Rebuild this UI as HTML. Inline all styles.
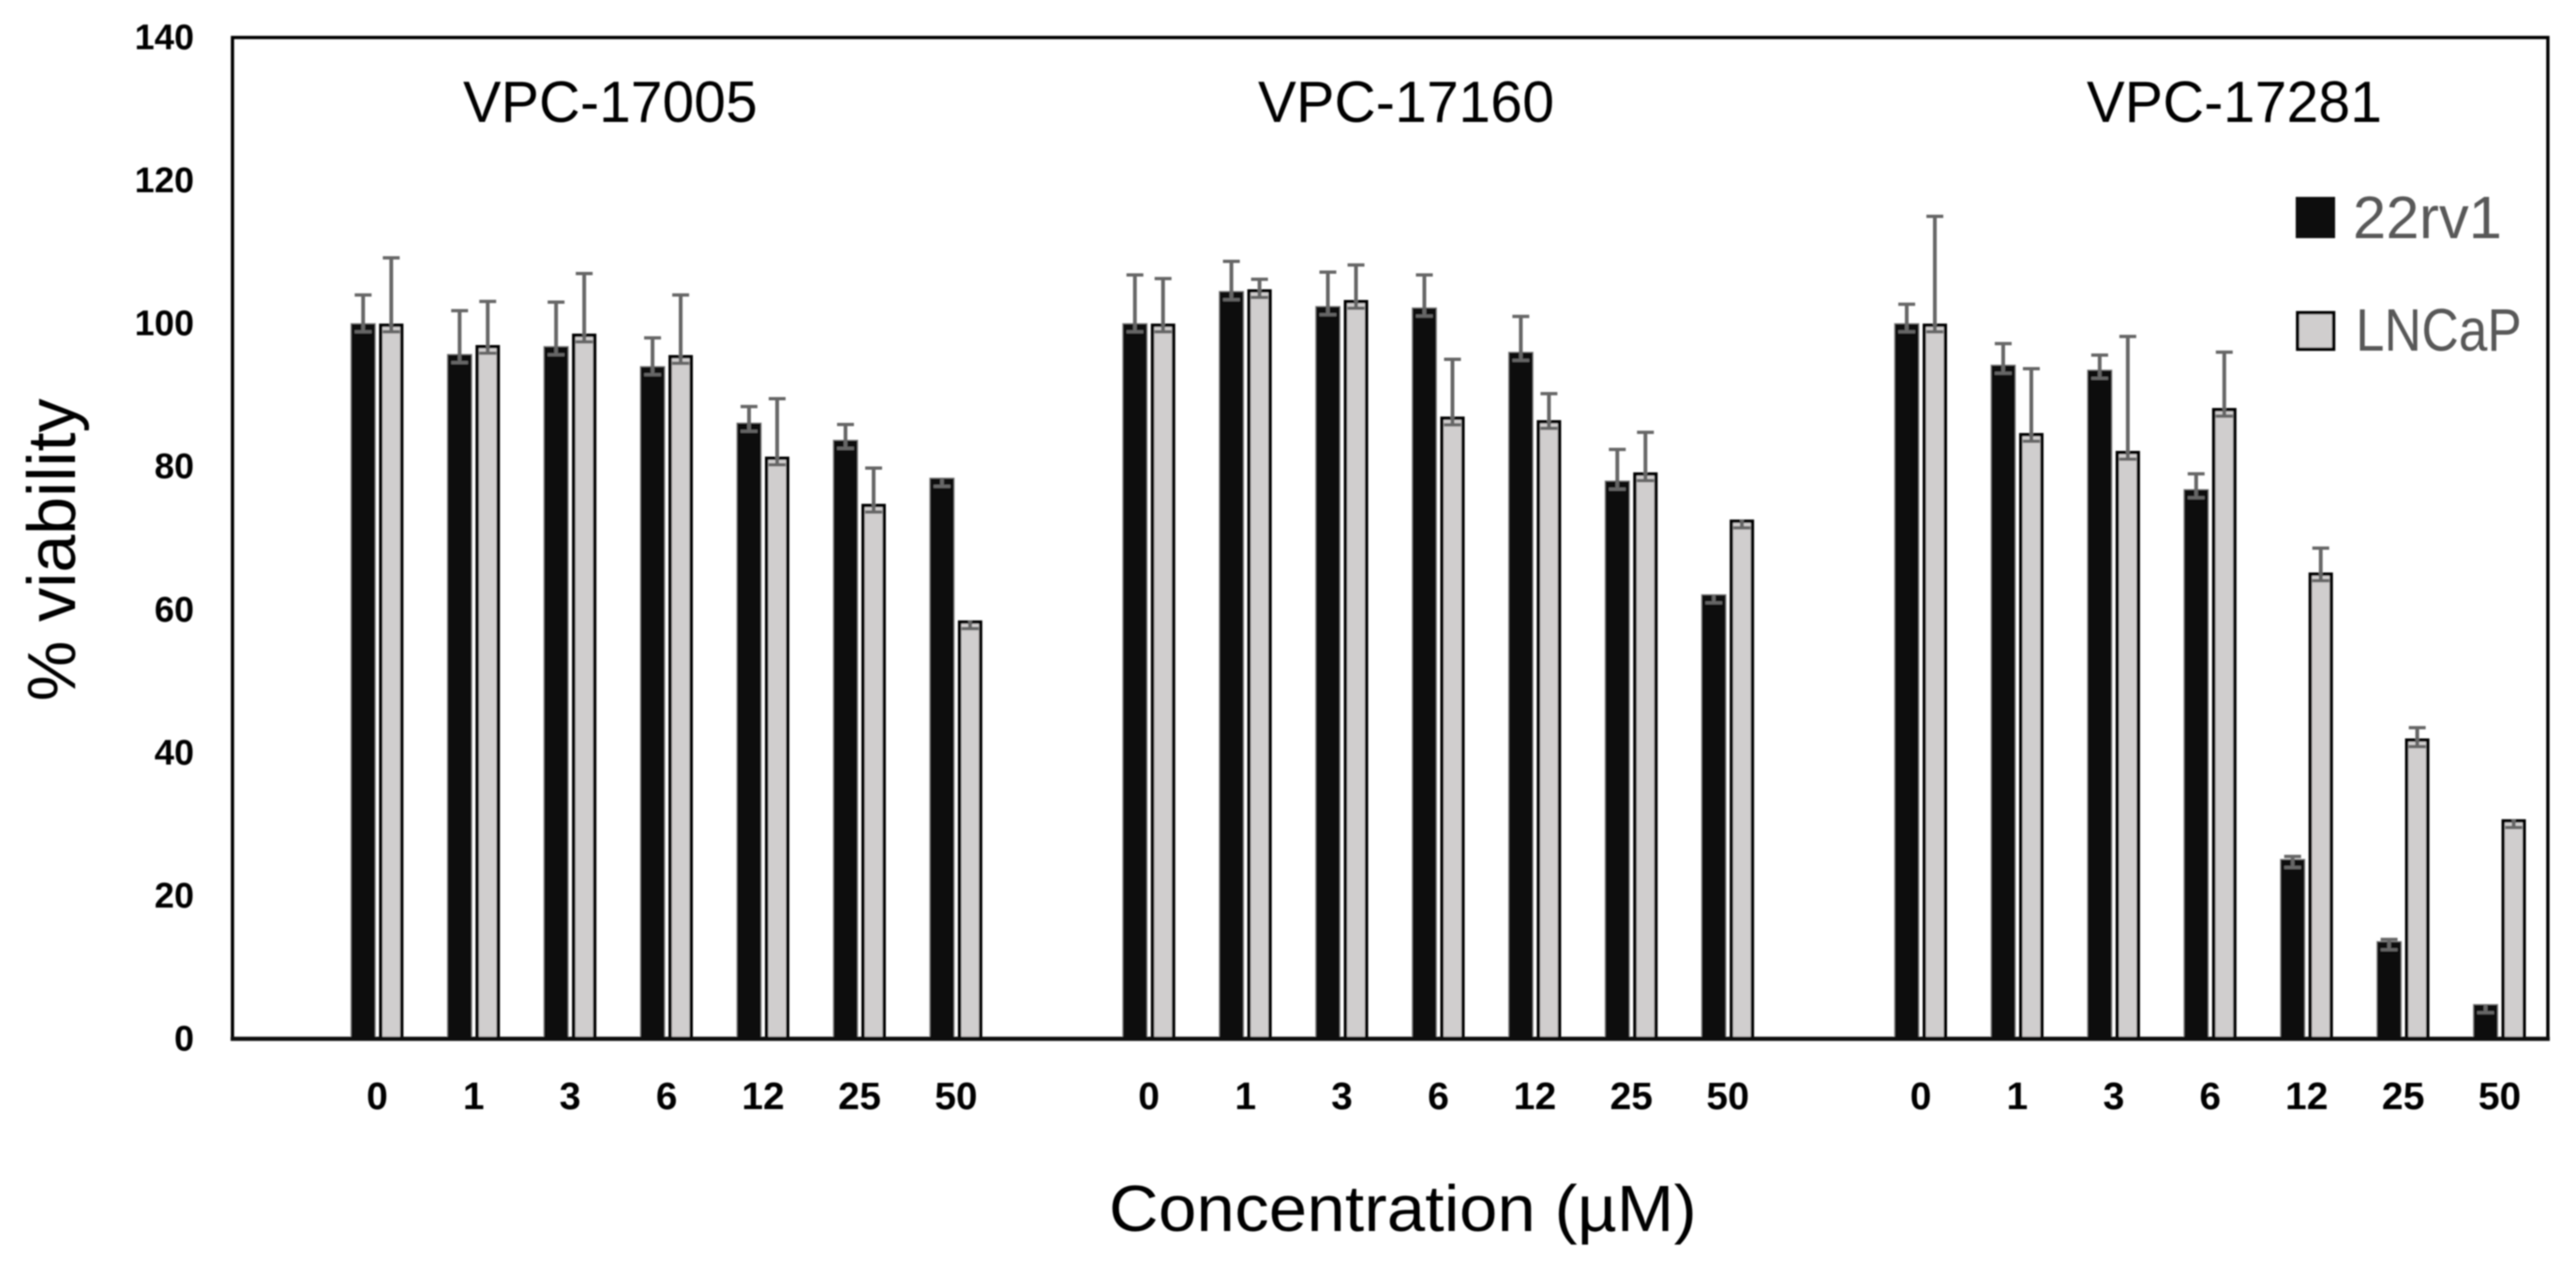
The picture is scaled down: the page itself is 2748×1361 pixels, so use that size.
<!DOCTYPE html>
<html lang="en">
<head>
<meta charset="utf-8">
<title>% viability vs concentration</title>
<style>
  html, body { margin: 0; padding: 0; background: #ffffff; width: 2748px; height: 1361px; overflow: hidden; }
  svg { display: block; }
  text { font-family: "Liberation Sans", sans-serif; }
</style>
</head>
<body>
<svg id="chart" xmlns="http://www.w3.org/2000/svg" width="2748" height="1361" viewBox="0 0 2748 1361">
  <defs>
    <filter id="soft" x="0" y="0" width="2748" height="1361" filterUnits="userSpaceOnUse">
      <feGaussianBlur stdDeviation="0.8"/>
    </filter>
  </defs>
  <rect x="0" y="0" width="2748" height="1361" fill="#ffffff"/>
  <g id="root" filter="url(#soft)">
    <g id="marks"></g>
    <rect x="248" y="40" width="2470" height="1068" fill="none" stroke="#000000" stroke-width="3.5"/>
    <line x1="246" y1="1108" x2="2720" y2="1108" stroke="#111111" stroke-width="4.5"/>
    <g id="yticks"></g>
    <g id="xticks"></g>
    <g>
      <text x="494" y="130" font-size="62" fill="#000000" textLength="314" lengthAdjust="spacingAndGlyphs">VPC-17005</text>
      <text x="1342" y="130" font-size="62" fill="#000000" textLength="316" lengthAdjust="spacingAndGlyphs">VPC-17160</text>
      <text x="2226" y="130" font-size="62" fill="#000000" textLength="315" lengthAdjust="spacingAndGlyphs">VPC-17281</text>
    </g>
    <text transform="translate(80 748) rotate(-90)" font-size="72" fill="#000000" textLength="323" lengthAdjust="spacingAndGlyphs">% viability</text>
    <text x="1183" y="1313" font-size="70" fill="#000000" textLength="627" lengthAdjust="spacingAndGlyphs">Concentration (µM)</text>
    <g>
      <g>
        <rect x="2449" y="210" width="42" height="44" fill="#0d0d0d"/>
        <text x="2510" y="254" font-size="64" fill="#595959" textLength="159" lengthAdjust="spacingAndGlyphs">22rv1</text>
      </g>
      <g>
        <rect x="2451" y="333.5" width="38.5" height="39" fill="#d0cece" stroke="#000000" stroke-width="3.5"/>
        <text x="2513" y="374" font-size="64" fill="#595959" textLength="177" lengthAdjust="spacingAndGlyphs">LNCaP</text>
      </g>
    </g>
  </g>
</svg>
<script>
const concentrations = ["0", "1", "3", "6", "12", "25", "50"];
const yTicks = [0, 20, 40, 60, 80, 100, 120, 140];

const rv1Values17005 = [100, 95.7, 96.8, 94, 86.1, 83.7, 78.4];
const rv1Upper17005 = [4, 6.1, 6.2, 4, 2.3, 2.2, 0];
const lncapValues17005 = [100, 97, 98.6, 95.6, 81.4, 74.8, 58.5];
const lncapUpper17005 = [9.2, 6.1, 8.4, 8.4, 8.1, 5, 0];

const rv1Values17160 = [100, 104.5, 102.4, 102.2, 96, 78, 62.1];
const rv1Upper17160 = [6.8, 4.2, 4.8, 4.6, 5, 4.4, 0];
const lncapValues17160 = [100, 104.8, 103.3, 87, 86.5, 79.2, 72.6];
const lncapUpper17160 = [6.3, 1.4, 4.9, 8, 3.7, 5.6, 0];

const rv1Values17281 = [100, 94.2, 93.5, 76.8, 25.1, 13.6, 4.8];
const rv1Upper17281 = [2.7, 3, 2.1, 2.2, 0.4, 0.3, 0];
const lncapValues17281 = [100, 84.7, 82.2, 88.2, 65.2, 42, 30.7];
const lncapUpper17281 = [15, 9, 16, 7.8, 3.4, 1.5, 0];

const lowerError = 1.15;

const rv1Series = [rv1Values17005, rv1Values17160, rv1Values17281];
const rv1Uppers = [rv1Upper17005, rv1Upper17160, rv1Upper17281];
const lncapSeries = [lncapValues17005, lncapValues17160, lncapValues17281];
const lncapUppers = [lncapUpper17005, lncapUpper17160, lncapUpper17281];

const NS = "http://www.w3.org/2000/svg";
const plotLeft = 248, plotRight = 2718, plotTop = 40, plotBottom = 1108, yMax = 140, slotCount = 24;

function yAxis(v) { return plotBottom - (v / yMax) * (plotBottom - plotTop); }
function slotCenter(group, cat) {
  const slot = 1 + group * 8 + cat;
  return plotLeft + (slot + 0.5) * (plotRight - plotLeft) / slotCount;
}
function make(tag, attrs, parent) {
  const el = document.createElementNS(NS, tag);
  for (const k in attrs) el.setAttribute(k, attrs[k]);
  parent.appendChild(el);
  return el;
}

const marks = document.getElementById("marks");
const yticksG = document.getElementById("yticks");
const xticksG = document.getElementById("xticks");

function drawError(cx, value, upper, group) {
  const top = yAxis(value + upper), low = yAxis(value - lowerError);
  const stem = make("line", { x1: cx, x2: cx, y1: top, y2: low, stroke: "#666666", "stroke-width": 4 }, group);
  
  
  if (upper > 0) {
    const capTop = make("line", { x1: cx - 9, x2: cx + 9, y1: top, y2: top, stroke: "#666666", "stroke-width": 3.5 }, group);
    
    
  }
  const capLow = make("line", { x1: cx - 9, x2: cx + 9, y1: low, y2: low, stroke: "#666666", "stroke-width": 3.5 }, group);
  
  
}

rv1Series.forEach(function (series, g) {
  concentrations.forEach(function (label, c) {
    const cx = slotCenter(g, c);
    const tick = make("text", { x: cx, y: 1183, "font-size": 41, "font-weight": "bold", fill: "#000000", "text-anchor": "middle" }, xticksG);
    tick.textContent = label;
    
    

    const blackTop = yAxis(series[c]);
    const blackBar = make("rect", { x: cx - 28, y: blackTop, width: 26, height: plotBottom - blackTop, fill: "#0d0d0d", stroke: "#8a8a8a", "stroke-width": 1 }, marks);
    
    

    const grayTop = yAxis(lncapSeries[g][c]) + 1.75;
    const grayBar = make("rect", { x: cx + 3.75, y: grayTop, width: 22.5, height: plotBottom - grayTop, fill: "#d0cece", stroke: "#000000", "stroke-width": 3.5 }, marks);
    
    

    drawError(cx - 15, series[c], rv1Uppers[g][c], marks);
    drawError(cx + 15, lncapSeries[g][c], lncapUppers[g][c], marks);
  });
});

yTicks.forEach(function (v) {
  const t = make("text", { x: 207, y: yAxis(v) + 12.5, "font-size": 38, "font-weight": "bold", fill: "#000000", "text-anchor": "end" }, yticksG);
  t.textContent = String(v);
  
  
});
</script>
</body>
</html>
